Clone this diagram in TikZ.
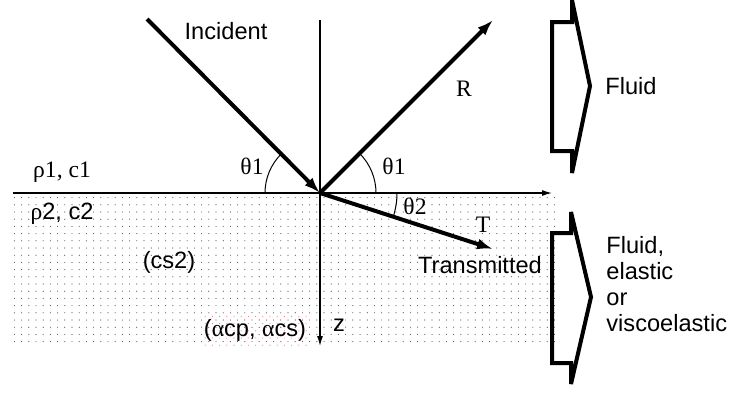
\documentclass[tikz,border=0pt]{standalone}
\usepackage{fontspec}
\setmainfont{Liberation Sans}
\newfontfamily\serifgr{Liberation Serif}
\usetikzlibrary{arrows.meta,patterns.meta}

\tikzset{
  ray/.style={line width=2pt,-{Latex[length=8pt,width=5.5pt]}},
  axis/.style={line width=0.6pt,-{Latex[length=5pt,width=3pt]}},
  angarc/.style={line width=0.5pt},
  medium/.style={line width=2pt,line join=miter,miter limit=2},
  lbl/.style={inner sep=0pt,font=\fontsize{11.8}{13}\selectfont},
  sym/.style={inner sep=0pt,font=\fontsize{11.8}{13}\selectfont\serifgr},
}

\begin{document}
\begin{tikzpicture}[x=0.5pt,y=-0.5pt]
	\useasboundingbox (0,0) rectangle (732,392);
	
	% lower medium
	\fill[pattern={Dots[distance=3.6pt,radius=0.3pt]},pattern color=black!65] (13,194) rectangle (556,347);
	\fill[pattern={Dots[distance=3.6pt,radius=0.28pt,xshift=1.8pt,yshift=1.8pt]},pattern color=red!55] (204,314) rectangle (312,350);
	
	% axes
	\coordinate (O) at (320,193);
	\coordinate (X0) at (13,193);
	\coordinate (X1) at (552,193);
	\coordinate (Z0) at (320,20);
	\coordinate (Z1) at (320,346);
	\draw[axis] (X0) -- (X1);
	\draw[axis] (Z0) -- (Z1);
	
	% rays
	\coordinate (I) at (147,19);
	\coordinate (R) at (493,20);
	\coordinate (T) at (493,249);
	\draw[ray] (I) -- (O);
	\draw[ray] (O) -- (R);
	\draw[ray] (O) -- (T);
	
	% angles
	\draw[angarc] (O) ++(-55,0) arc[start angle=180,end angle=225,radius=55];
	\draw[angarc] (O) ++(56,0) arc[start angle=0,end angle=-45,radius=56];
	\draw[angarc] (O) ++(77,0) arc[start angle=0,end angle=17.9,radius=77];
	
	\node[lbl] (inc) at (226,31) {Incident};
	\node[sym] (rl) at (464,89) {R};
	\node[sym] (th1a) at (252,166) {θ1};
	\node[sym] (th1b) at (394,166) {θ1};
	\node[sym] (th2) at (415,206) {θ2};
	\node[sym] (tl) at (483,225) {T};
	\node[lbl] (trans) at (480,265) {Transmitted};
	\node[lbl] (zl) at (339,325) {z};
	\node[sym] (m1) at (62,172) {ρ1, c1};
	\node[lbl] (m2) at (62,214) {{\serifgr ρ}2, c2};
	\node[lbl] (cs) at (169,262) {(cs2)};
	\node[lbl] (alp) at (255,330) {({\serifgr α}cp, {\serifgr α}cs)};
	
	% media brackets
	\draw[medium] (572,0) -- (590,86) -- (572,173) -- (572,151) -- (552,151) -- (552,22) -- (572,22) -- cycle;
	\draw[medium] (571,212) -- (591,297) -- (571,384) -- (571,363) -- (552,363) -- (552,233) -- (571,233) -- cycle;
	\node[lbl,anchor=west] (fl1) at (605,86) {Fluid};
	\node[lbl,anchor=west,align=left] (fl2) at (606,284) {Fluid,\\elastic\\or\\viscoelastic};
\end{tikzpicture}
\end{document}
